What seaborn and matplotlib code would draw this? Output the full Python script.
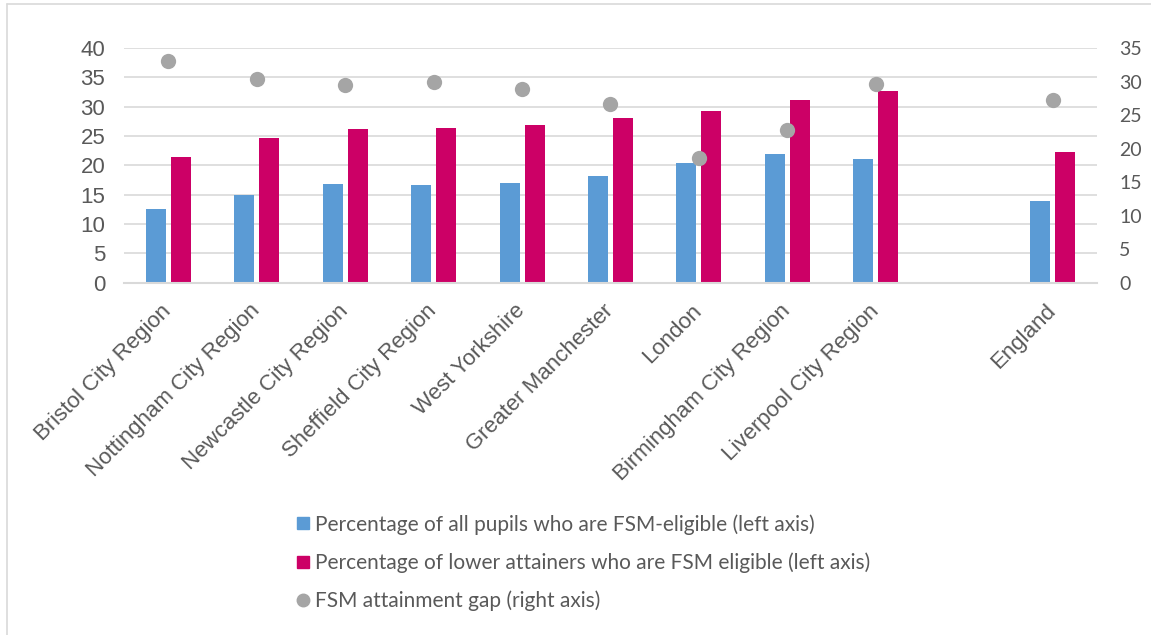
import matplotlib.pyplot as plt
import seaborn as sns
import pandas as pd
from matplotlib.lines import Line2D

# data
regions = ["Bristol City Region", "Nottingham City Region", "Newcastle City Region",
           "Sheffield City Region", "West Yorkshire", "Greater Manchester", "London",
           "Birmingham City Region", "Liverpool City Region", "England"]
slots = regions[:9] + [""] + regions[9:]   # empty slot before England

fsm_all = [12.5, 15.0, 16.8, 16.6, 17.0, 18.2, 20.4, 21.9, 21.0, 13.9]
fsm_low = [21.5, 24.6, 26.2, 26.4, 26.9, 28.1, 29.2, 31.2, 32.6, 22.3]
gap = [33.0, 30.4, 29.5, 30.0, 28.9, 26.7, 18.6, 22.7, 29.6, 27.2]

lab_all = "Percentage of all pupils who are FSM-eligible (left axis)"
lab_low = "Percentage of lower attainers who are FSM eligible (left axis)"
lab_gap = "FSM attainment gap (right axis)"

BLUE, PINK, GREY = "#5B9BD5", "#CC0066", "#A5A5A5"
GRID, TXT = "#D9D9D9", "#595959"

df = pd.DataFrame({
    "region": regions * 2,
    "value": fsm_all + fsm_low,
    "series": [lab_all] * len(regions) + [lab_low] * len(regions),
})

sns.set_theme(style="white")
plt.rcParams["font.family"] = ["Liberation Sans", "DejaVu Sans"]

fig = plt.figure(figsize=(11.51, 6.35), dpi=100)
ax = fig.add_axes([124 / 1151, 0.5548, 973 / 1151, 0.3696])

sns.barplot(data=df, x="region", y="value", hue="series", order=slots,
            hue_order=[lab_all, lab_low], palette=[BLUE, PINK], saturation=1,
            width=0.565, gap=0.2, linewidth=0, legend=False, ax=ax)

ax2 = ax.twinx()
sns.pointplot(x=regions, y=gap, order=slots, linestyle="none", color=GREY,
              markers="o", markersize=11, markeredgewidth=0, errorbar=None, ax=ax2)

ax.set_xlim(-0.5, len(slots) - 0.5)
ax.set_ylim(0, 40)
ax.set_yticks(range(0, 41, 5))
ax2.set_ylim(0, 35)
ax2.set_yticks(range(0, 36, 5))
ax.set_xlabel("")
ax.set_ylabel("")
ax2.set_ylabel("")

ax.yaxis.grid(True, color=GRID, linewidth=1.2)
ax.set_axisbelow(True)
for a in (ax, ax2):
    for s in ("top", "left", "right", "bottom"):
        a.spines[s].set_visible(False)
ax.spines["bottom"].set_visible(True)
ax.spines["bottom"].set_color(GRID)
ax.spines["bottom"].set_linewidth(1.5)

ax.tick_params(axis="y", length=0, pad=13.5, labelsize=16, labelcolor=TXT)
ax.tick_params(axis="x", length=0, pad=18, labelsize=16, labelcolor=TXT)
ax2.tick_params(axis="y", length=0, pad=16, labelsize=14, labelcolor=TXT)
for t in ax2.get_yticklabels():
    t.set_fontfamily("Lato")
ax.set_xticks(range(len(slots)))
ax.set_xticklabels(slots)
plt.setp(ax.get_xticklabels(), rotation=45, ha="right", va="center",
         rotation_mode="anchor")

handles = [
    Line2D([], [], marker="s", linestyle="none", color=BLUE, markersize=8.5),
    Line2D([], [], marker="s", linestyle="none", color=PINK, markersize=8.5),
    Line2D([], [], marker="o", linestyle="none", color=GREY, markersize=9),
]
fig.legend(handles, [lab_all, lab_low, lab_gap], loc="upper left",
           bbox_to_anchor=(285 / 1151, 0.207), frameon=False, borderpad=0,
           labelspacing=0.85, handlelength=0.7, handletextpad=0.25,
           prop={"family": "Lato", "size": 15}, labelcolor=TXT)

# thin outer border like the source screenshot
fig.add_artist(Line2D([7 / 1151, 7 / 1151], [0, 1 - 4 / 635], color=GRID, lw=1.2))
fig.add_artist(Line2D([7 / 1151, 1], [1 - 4 / 635, 1 - 4 / 635], color=GRID, lw=1.2))

fig.savefig("out.png", dpi=100)
